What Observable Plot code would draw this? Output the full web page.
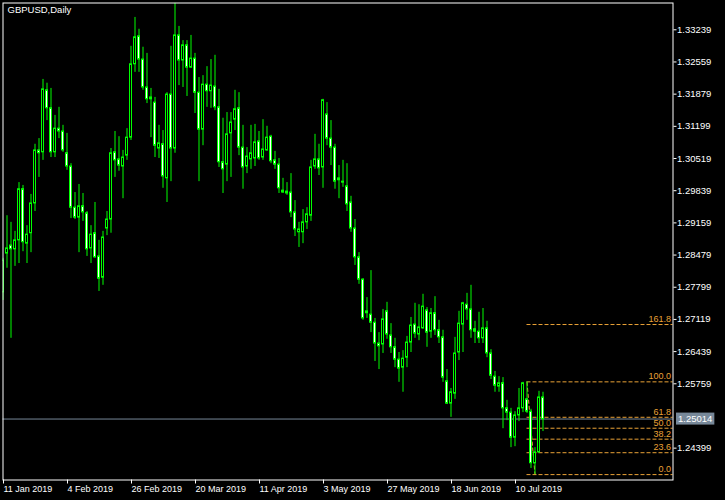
<!DOCTYPE html>
<html><head><meta charset="utf-8">
<script src="https://cdn.jsdelivr.net/npm/d3@7"></script>
<script src="https://cdn.jsdelivr.net/npm/@observablehq/plot@0.6"></script>
<style>html,body{margin:0;padding:0;background:#000;}</style>
</head><body>
<div id="chart"></div>
<script>
const symbolTitle = "GBPUSD,Daily";

const open = [
1.2769,1.2851,1.2868,1.2860,1.2879,1.2987,1.2872,1.2894,1.2957,1.3069,
1.3065,1.3196,1.3158,1.3065,1.3115,1.3109,1.3063,1.3035,1.2948,1.2927,
1.2951,1.2936,1.2862,1.2894,1.2845,1.2800,1.2904,1.2923,1.3065,1.3050,
1.3035,1.3058,1.3096,1.3251,1.3310,1.3261,1.3202,1.3177,1.3170,1.3073,
1.3082,1.3010,1.3187,1.3073,1.3312,1.3259,1.3291,1.3244,1.3263,1.3191,
1.3113,1.3208,1.3194,1.3204,1.3160,1.3044,1.3039,1.3105,1.3134,1.3158,
1.3075,1.3035,1.3050,1.3052,1.3088,1.3054,1.3069,1.3098,1.3048,1.3039,
1.2980,1.2978,1.2980,1.2938,1.2896,1.2896,1.2917,1.2931,1.3035,1.3050,
1.3033,1.3145,1.3094,1.3075,1.3006,1.3003,1.2993,1.2959,1.2904,1.2843,
1.2796,1.2725,1.2722,1.2705,1.2661,1.2659,1.2729,1.2678,1.2653,1.2627,
1.2610,1.2631,1.2663,1.2701,1.2680,1.2693,1.2731,1.2686,1.2725,1.2689,
1.2674,1.2581,1.2534,1.2555,1.2642,1.2701,1.2743,1.2733,1.2691,1.2686,
1.2672,1.2693,1.2640,1.2591,1.2570,1.2577,1.2524,1.2515,1.2462,1.2509,
1.2524,1.2543,1.2517,1.2408,1.2431,1.2547];

const high = [
1.2841,1.2931,1.2917,1.2898,1.3001,1.2995,1.2910,1.2976,1.3082,1.3094,
1.3219,1.3211,1.3200,1.3143,1.3160,1.3122,1.3105,1.3041,1.2980,1.2997,
1.2978,1.2940,1.2910,1.2959,1.2879,1.2898,1.2940,1.3073,1.3109,1.3098,
1.3069,1.3115,1.3289,1.3350,1.3325,1.3287,1.3274,1.3200,1.3181,1.3122,
1.3111,1.3191,1.3289,1.3380,1.3331,1.3301,1.3301,1.3312,1.3274,1.3223,
1.3227,1.3246,1.3261,1.3270,1.3198,1.3137,1.3149,1.3149,1.3196,1.3191,
1.3122,1.3075,1.3122,1.3124,1.3109,1.3134,1.3120,1.3101,1.3067,1.3052,
1.3010,1.3001,1.3020,1.2963,1.2917,1.2944,1.2948,1.3048,1.3103,1.3082,
1.3177,1.3170,1.3132,1.3082,1.3037,1.3048,1.3041,1.2972,1.2923,1.2853,
1.2798,1.2758,1.2815,1.2714,1.2684,1.2733,1.2748,1.2703,1.2672,1.2642,
1.2646,1.2676,1.2716,1.2746,1.2743,1.2765,1.2737,1.2735,1.2760,1.2710,
1.2689,1.2606,1.2566,1.2674,1.2729,1.2748,1.2767,1.2784,1.2708,1.2727,
1.2735,1.2708,1.2648,1.2602,1.2591,1.2589,1.2541,1.2524,1.2517,1.2566,
1.2579,1.2580,1.2522,1.2441,1.2560,1.2558];

const low = [
1.2752,1.2820,1.2672,1.2824,1.2830,1.2855,1.2830,1.2853,1.2940,1.3012,
1.3048,1.3132,1.3054,1.3054,1.3094,1.3065,1.3027,1.2925,1.2923,1.2853,
1.2919,1.2845,1.2830,1.2841,1.2771,1.2784,1.2889,1.2894,1.3012,1.3025,
1.2967,1.3048,1.3090,1.3234,1.3234,1.3196,1.3168,1.3096,1.3054,1.3052,
1.2989,1.2959,1.3003,1.3063,1.3206,1.3202,1.3183,1.3242,1.3147,1.3003,
1.3079,1.3160,1.3158,1.3153,1.3033,1.2978,1.3003,1.3012,1.3111,1.3058,
1.2987,1.3020,1.3029,1.3035,1.3048,1.3048,1.3067,1.3041,1.3029,1.2978,
1.2978,1.2974,1.2927,1.2887,1.2864,1.2872,1.2902,1.2919,1.3029,1.3016,
1.2989,1.3079,1.3037,1.2987,1.2967,1.2991,1.2940,1.2896,1.2826,1.2786,
1.2710,1.2714,1.2684,1.2623,1.2606,1.2640,1.2670,1.2640,1.2610,1.2579,
1.2558,1.2610,1.2642,1.2672,1.2667,1.2691,1.2653,1.2672,1.2678,1.2661,
1.2579,1.2532,1.2505,1.2543,1.2625,1.2642,1.2710,1.2672,1.2661,1.2661,
1.2661,1.2631,1.2585,1.2558,1.2558,1.2481,1.2498,1.2441,1.2443,1.2496,
1.2515,1.2513,1.2397,1.2384,1.2429,1.2475];

const close = [
1.2836,1.2862,1.2860,1.2879,1.2987,1.2875,1.2891,1.2957,1.3069,1.3063,
1.3198,1.3158,1.3065,1.3115,1.3109,1.3069,1.3035,1.2948,1.2927,1.2951,
1.2938,1.2860,1.2891,1.2843,1.2798,1.2885,1.2923,1.3063,1.3048,1.3037,
1.3054,1.3096,1.3251,1.3308,1.3261,1.3202,1.3177,1.3181,1.3079,1.3084,
1.3014,1.3187,1.3073,1.3312,1.3259,1.3291,1.3244,1.3263,1.3191,1.3113,
1.3208,1.3194,1.3206,1.3160,1.3044,1.3029,1.3103,1.3128,1.3156,1.3075,
1.3033,1.3056,1.3063,1.3086,1.3052,1.3071,1.3096,1.3046,1.3039,1.2989,
1.2984,1.2982,1.2938,1.2902,1.2902,1.2917,1.2934,1.3033,1.3050,1.3031,
1.3175,1.3094,1.3075,1.3003,1.3010,1.3001,1.2955,1.2904,1.2843,1.2796,
1.2714,1.2729,1.2705,1.2661,1.2655,1.2712,1.2680,1.2653,1.2627,1.2608,
1.2629,1.2663,1.2699,1.2682,1.2695,1.2739,1.2684,1.2725,1.2689,1.2674,
1.2589,1.2534,1.2558,1.2640,1.2703,1.2746,1.2733,1.2689,1.2686,1.2672,
1.2693,1.2640,1.2593,1.2572,1.2577,1.2524,1.2515,1.2462,1.2509,1.2524,
1.2577,1.2517,1.2408,1.2431,1.2547,1.2501];

const xTickIndex = [0, 16, 32, 48, 64, 80, 96, 112, 128];
const xTickLabels = ["11 Jan 2019","4 Feb 2019","26 Feb 2019","20 Mar 2019","11 Apr 2019","3 May 2019","27 May 2019","18 Jun 2019","10 Jul 2019"];
const yTicks = [1.33239,1.32559,1.31879,1.31199,1.30519,1.29839,1.29159,1.28479,1.27799,1.27119,1.26439,1.25759,1.24399];
const currentPrice = 1.25014;

const fibStartIndex = 131;
const fibEndIndex = 133;
const fibHigh = 1.2580;
const fibLow = 1.2384;
const fibRatios = [0, 0.236, 0.382, 0.5, 0.618, 1, 1.618];
const fibLabels = ["0.0","23.6","38.2","50.0","61.8","100.0","161.8"];

const xDomain = [0, 167.5];
const yDomain = [1.23726, 1.33805];

const candles = open.map((o, i) => ({i, open: o, high: high[i], low: low[i], close: close[i]}));
const fib = fibRatios.map((r, k) => ({price: fibLow + r * (fibHigh - fibLow), label: fibLabels[k]}));

const LIME = "#00ff00", ORANGE = "#eaa236", SLATE = "#778899";

const chart = Plot.plot({
  width: 725, height: 500,
  marginLeft: 2.5, marginRight: 52.5, marginTop: 2.5, marginBottom: 20.5,
  x: {type: "linear", domain: xDomain, axis: null},
  y: {type: "linear", domain: yDomain, axis: null},
  color: {type: "identity"},
  style: {background: "#000", color: "#fff", fontFamily: "'Liberation Sans', Arial, sans-serif", fontSize: "9px"},
  marks: [
    Plot.ruleY([currentPrice], {y: d => d, stroke: SLATE}),
    Plot.link([fibStartIndex], {x1: () => fibStartIndex, y1: () => fibHigh, x2: () => fibEndIndex, y2: () => fibLow, stroke: ORANGE, strokeDasharray: "4,2"}),
    Plot.ruleY(fib, {y: "price", x1: () => fibStartIndex, x2: () => xDomain[1], stroke: ORANGE, strokeDasharray: "4,2"}),
    Plot.ruleX(candles, {x: "i", y1: "low", y2: "high", stroke: LIME, clip: true}),
    Plot.rect(candles, {x1: d => d.i - 0.25, x2: d => d.i + 0.25, y1: "open", y2: "close",
      fill: d => d.close < d.open ? "#ffffff" : "#000000", stroke: LIME, clip: true}),
    Plot.text(fib, {y: "price", text: "label", frameAnchor: "right", textAnchor: "end", lineAnchor: "bottom", dx: -2, dy: -2.5, fill: ORANGE, fontSize: 9}),
    Plot.frame({stroke: "#fff"}),
    Plot.axisX(xTickIndex, {anchor: "bottom", tickSize: 4, tickPadding: 2, textAnchor: "start", dx: 0.5,
      tickFormat: i => xTickLabels[xTickIndex.indexOf(i)], label: null, fontSize: 9, stroke: "#fff", fill: "#fff"}),
    Plot.axisY(yTicks, {anchor: "right", tickSize: 3, tickPadding: 1, tickFormat: d => d.toFixed(5), label: null, fontSize: 9.5, stroke: "#fff", fill: "#fff"}),
    Plot.text([symbolTitle], {frameAnchor: "top-left", text: d => d, dx: 4.5, dy: 3, textAnchor: "start", lineAnchor: "top", fill: "#fff", fontSize: 9.5}),
    Plot.text([currentPrice], {y: d => d, text: d => d.toFixed(5), frameAnchor: "right", textAnchor: "start", dx: 5, fill: "#fff", fontSize: 9.5})
  ]
});
document.getElementById("chart").appendChild(chart);

const svg = chart.tagName.toLowerCase() === "svg" ? chart : chart.querySelector("svg");
for (const t of svg.querySelectorAll("text")) {
  if (t.textContent === currentPrice.toFixed(5)) {
    const b = t.getBBox();
    const r = document.createElementNS("http://www.w3.org/2000/svg", "rect");
    r.setAttribute("x", b.x - 2);
    r.setAttribute("y", b.y - 0.5);
    r.setAttribute("width", b.width + 4);
    r.setAttribute("height", b.height + 1);
    r.setAttribute("fill", SLATE);
    r.setAttribute("stroke", "none");
    if (t.getAttribute("transform")) r.setAttribute("transform", t.getAttribute("transform"));
    t.parentNode.insertBefore(r, t);
  }
}
</script>
</body></html>
